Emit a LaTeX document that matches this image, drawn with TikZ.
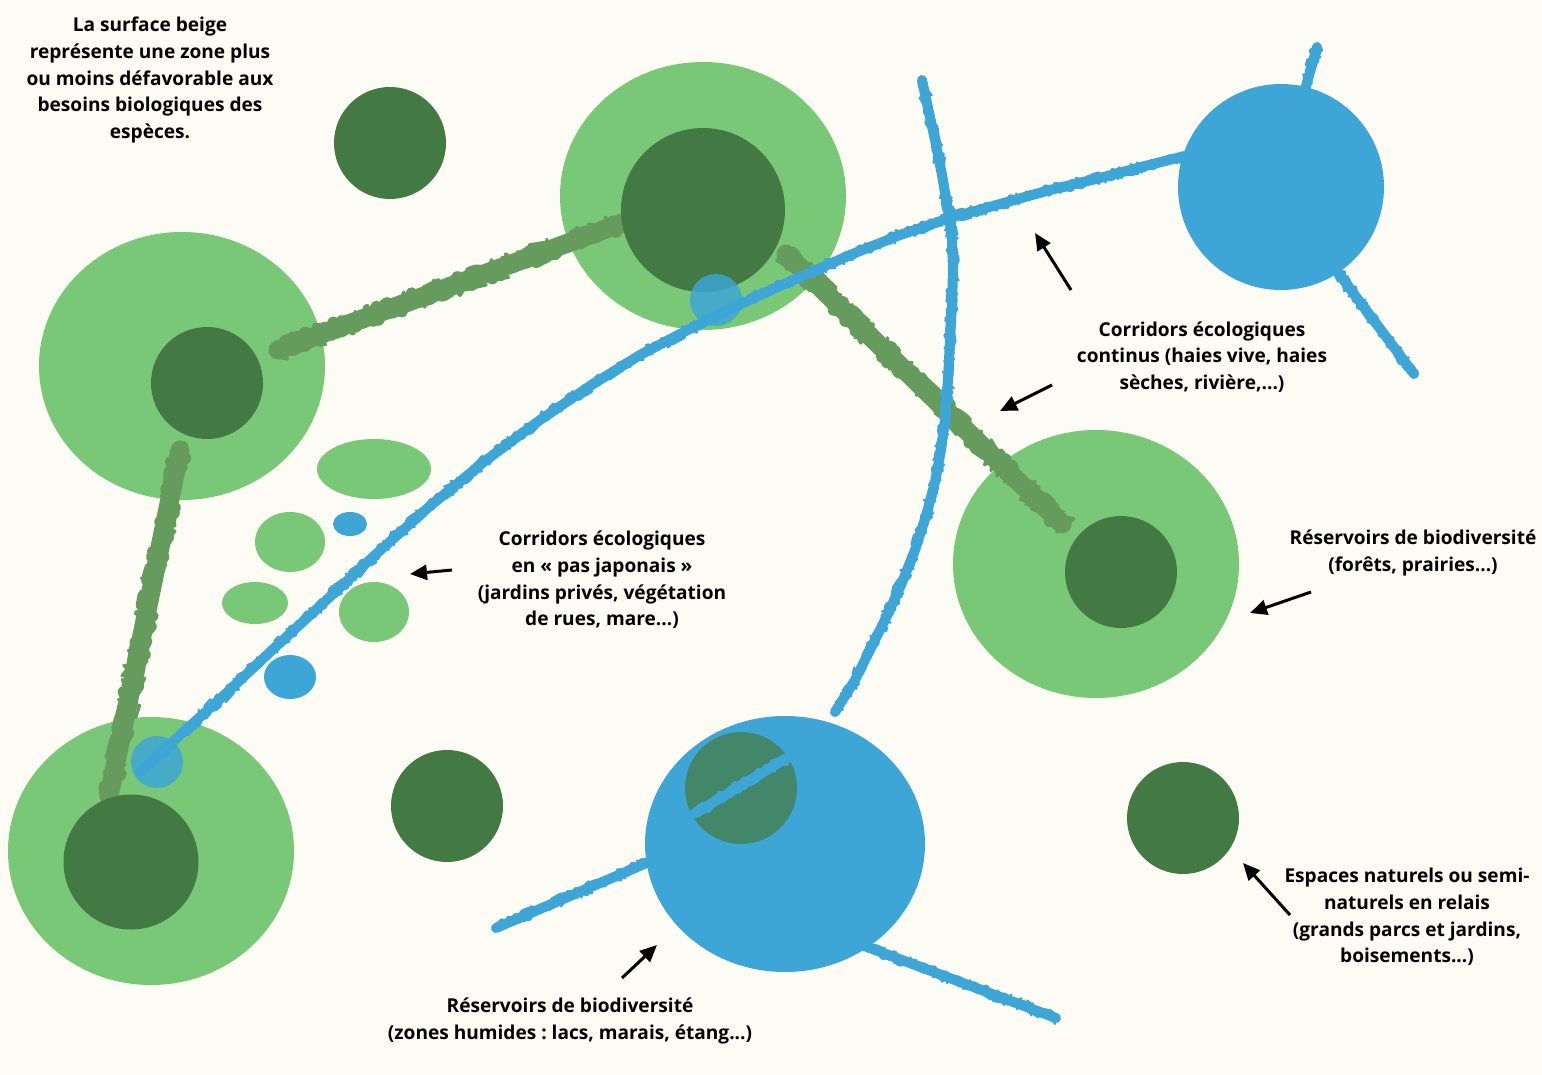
\documentclass[tikz,border=0pt]{standalone}
\usepackage{fontspec}
\setmainfont{Open Sans}
\frenchspacing
\usetikzlibrary{arrows.meta,decorations.pathmorphing}
\definecolor{bgc}{HTML}{FCFBF4}
\definecolor{lgreen}{HTML}{78C877}
\definecolor{dgreen}{HTML}{437A44}
\definecolor{bluec}{HTML}{3DA6D6}
\definecolor{gcorc}{HTML}{659C5E}
\definecolor{tealc}{HTML}{43876A}
\tikzset{
  lbl/.style={align=center,font=\fontsize{19.1}{26.75}\selectfont\bfseries,text=black,inner sep=0pt},
  arr/.style={line width=3pt,-{Triangle[length=17pt,width=15pt]}},
  gcor/.style={draw=gcorc,line cap=round,line join=round},
  bcor/.style={draw=bluec,line cap=round,line join=round},
}
\newcommand\greencorr[1]{%
  \draw[gcor,line width=19pt] #1;
  \draw[gcor,line width=12pt,decorate,decoration={random steps,segment length=3pt,amplitude=7pt}] #1;
  \draw[gcor,line width=3pt,decorate,decoration={random steps,segment length=2pt,amplitude=12pt}] #1;
}
\newcommand\bluecorr[1]{%
  \draw[bcor,line width=10pt] #1;
  \draw[bcor,line width=6pt,decorate,decoration={random steps,segment length=3pt,amplitude=4pt}] #1;
  \draw[bcor,line width=2pt,decorate,decoration={random steps,segment length=2pt,amplitude=6.5pt}] #1;
}
\begin{document}
\begin{tikzpicture}[x=1pt,y=-1pt]
\pgfmathsetseed{42}
\useasboundingbox (0,0) rectangle (1542,1075);
\fill[bgc] (0,0) rectangle (1542,1075);
% light green reservoirs and stepping stones
\fill[lgreen] (703,196) ellipse [x radius=143pt,y radius=134pt];
\fill[lgreen] (182,366) ellipse [x radius=143pt,y radius=134pt];
\fill[lgreen] (1096,564) ellipse [x radius=143pt,y radius=134pt];
\fill[lgreen] (151,851) ellipse [x radius=143pt,y radius=134pt];
\fill[lgreen] (374,469) ellipse [x radius=57pt,y radius=30pt];
\fill[lgreen] (290,542) ellipse [x radius=35pt,y radius=30pt];
\fill[lgreen] (255,603) ellipse [x radius=33pt,y radius=21pt];
\fill[lgreen] (374,612) ellipse [x radius=35pt,y radius=30pt];
% green corridors
\greencorr{(278,350) -- (625,222)}
\greencorr{(180,450) -- (109,796)}
\greencorr{(786,254) -- (1062,524)}
% dark green cores and relays
\fill[dgreen] (703,210) circle [radius=82pt];
\fill[dgreen] (207,383) circle [radius=56pt];
\fill[dgreen] (1121,572) circle [radius=56pt];
\fill[dgreen] (131,862) circle [radius=67.5pt];
\fill[dgreen] (390,143) circle [radius=56pt];
\fill[dgreen] (447,806) circle [radius=56pt];
\fill[dgreen] (1183,818) circle [radius=56pt];
% blue corridors
\bluecorr{(140,772) -- (180,735) -- (220,699) -- (270,652) -- (320,606) -- (375,555) -- (430,506) -- (485,461) -- (540,420) -- (590,386) -- (640,355) -- (680,334) -- (716,316) -- (760,295) -- (800,277) -- (850,255) -- (900,235) -- (950,218) -- (1000,204) -- (1050,190) -- (1100,178) -- (1145,166) -- (1185,156)}
\bluecorr{(922,80) -- (928,108) -- (935,140) -- (942,175) -- (948,210) -- (952,240) -- (953,270) -- (952,305) -- (950,340) -- (948,380) -- (945,420) -- (941,450) -- (935,482) -- (926,516) -- (915,550) -- (901,585) -- (885,620) -- (870,650) -- (855,680) -- (835,712)}
\bluecorr{(1317,47) -- (1305,90)}
\bluecorr{(1336,270) -- (1414,374)}
\bluecorr{(496,928) -- (665,855)}
\bluecorr{(862,945) -- (1056,1018)}
% blue reservoirs
\fill[bluec] (1281,187) circle [radius=103pt];
\fill[bluec] (785,844) ellipse [x radius=140pt,y radius=128pt];
\fill[tealc] (741,788) circle [radius=56pt];
\bluecorr{(694,814) -- (790,756)}
% small blue stones
\fill[bluec,opacity=0.85] (716,300) circle [radius=26pt];
\fill[bluec,opacity=0.85] (157,762) circle [radius=26pt];
\fill[bluec] (350,524) ellipse [x radius=17pt,y radius=12pt];
\fill[bluec] (290,677) ellipse [x radius=26pt,y radius=22pt];
% labels
\node[lbl] (t1) at (150,80) {La surface beige\\représente une zone plus\\ou moins défavorable aux\\besoins biologiques des\\espèces.};
\node[lbl] (t2) at (1202,357) {Corridors écologiques\\continus (haies vive, haies\\sèches, rivière,...)};
\node[lbl] (t3) at (602,580) {Corridors écologiques\\en « pas japonais »\\(jardins privés, végétation\\de rues, mare...)};
\node[lbl] (t4) at (1413,553) {Réservoirs de biodiversité\\(forêts, prairies...)};
\node[lbl] (t5) at (1407,917) {Espaces naturels ou semi-\\naturels en relais\\(grands parcs et jardins,\\boisements...)};
\node[lbl] (t6) at (570,1021) {Réservoirs de biodiversité\\(zones humides : lacs, marais, étang...)};
% arrows
\coordinate (a1s) at (1071,290); \coordinate (a1e) at (1035,233);
\coordinate (a2s) at (1052,385); \coordinate (a2e) at (1000,411);
\coordinate (a3s) at (452,570);  \coordinate (a3e) at (410,574);
\coordinate (a4s) at (1311,592); \coordinate (a4e) at (1250,613);
\coordinate (a5s) at (1290,915); \coordinate (a5e) at (1243,863);
\coordinate (a6s) at (622,978);  \coordinate (a6e) at (657,945);
\draw[arr] (a1s) -- (a1e);
\draw[arr] (a2s) -- (a2e);
\draw[arr] (a3s) -- (a3e);
\draw[arr] (a4s) -- (a4e);
\draw[arr] (a5s) -- (a5e);
\draw[arr] (a6s) -- (a6e);
\end{tikzpicture}
\end{document}
